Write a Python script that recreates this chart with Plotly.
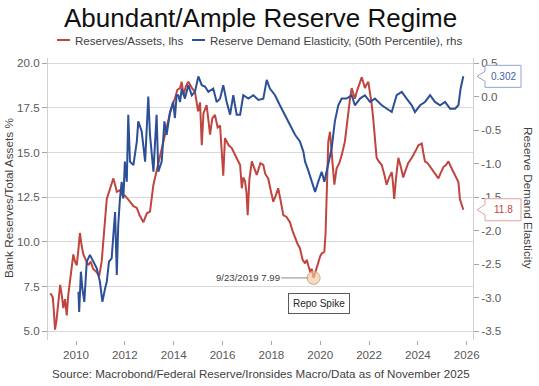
import plotly.graph_objects as go

# ---------------- data ----------------
red_x = [2008.95, 2009.05, 2009.10, 2009.14, 2009.20, 2009.28, 2009.35, 2009.42, 2009.48, 2009.55,
         2009.62, 2009.68, 2009.78, 2009.89, 2009.96, 2010.03, 2010.10, 2010.16, 2010.23, 2010.30,
         2010.40, 2010.50, 2010.60, 2010.70, 2010.85, 2010.95, 2011.05, 2011.15, 2011.26, 2011.40,
         2011.53, 2011.60, 2011.67, 2011.80, 2011.90, 2012.00, 2012.10, 2012.21, 2012.35, 2012.49,
         2012.60, 2012.76, 2012.90, 2013.03, 2013.17, 2013.30, 2013.44, 2013.57, 2013.71, 2013.85,
         2013.98, 2014.05, 2014.15, 2014.26, 2014.33, 2014.40, 2014.50, 2014.60, 2014.75, 2014.87,
         2015.00, 2015.08, 2015.15, 2015.22, 2015.35, 2015.42, 2015.49, 2015.58, 2015.69, 2015.80,
         2015.90, 2016.03, 2016.10, 2016.25, 2016.38, 2016.50, 2016.65, 2016.72, 2016.79, 2016.85,
         2016.92, 2016.98, 2017.03, 2017.10, 2017.20, 2017.30, 2017.40, 2017.55, 2017.67, 2017.75,
         2017.87, 2017.97, 2018.08, 2018.18, 2018.28, 2018.38, 2018.49, 2018.62, 2018.76, 2018.87,
         2018.97, 2019.07, 2019.17, 2019.28, 2019.38, 2019.45, 2019.51, 2019.60, 2019.65, 2019.73,
         2019.80, 2019.92, 2020.00, 2020.06, 2020.17, 2020.22, 2020.27, 2020.33, 2020.40, 2020.47,
         2020.53, 2020.58, 2020.67, 2020.78, 2020.88, 2021.01, 2021.08, 2021.15, 2021.22, 2021.29,
         2021.35, 2021.42, 2021.52, 2021.63, 2021.70, 2021.77, 2021.83, 2021.90, 2021.97, 2022.03,
         2022.10, 2022.17, 2022.24, 2022.31, 2022.40, 2022.52, 2022.62, 2022.72, 2022.82, 2022.93,
         2022.98, 2023.03, 2023.10, 2023.20, 2023.30, 2023.40, 2023.47, 2023.60, 2023.75, 2023.85,
         2023.95, 2024.02, 2024.16, 2024.22, 2024.29, 2024.40, 2024.50, 2024.57, 2024.70, 2024.84,
         2024.95, 2025.05, 2025.15, 2025.25, 2025.35, 2025.45, 2025.55, 2025.66, 2025.72, 2025.80,
         2025.86]
red_y = [7.13, 6.9, 6.0, 5.1, 5.6, 6.66, 7.6, 7.0, 6.3, 6.8,
         5.9, 7.0, 8.0, 9.3, 8.9, 8.7, 9.6, 10.5, 9.8, 9.3,
         9.0, 8.7, 8.9, 8.5, 8.3, 8.1, 8.9, 10.8, 12.4, 13.0,
         13.55, 13.2, 12.8, 12.9, 12.6, 12.6, 12.4, 12.25, 12.0, 11.9,
         11.5, 11.1, 11.6, 11.7, 13.2, 14.0, 14.85, 15.6, 16.5, 17.2,
         17.8, 18.0, 18.5, 18.6, 18.95, 18.2, 18.7, 18.95, 18.6, 18.4,
         17.3, 17.8, 15.4, 17.2, 17.65, 16.8, 16.0, 16.9, 17.1, 16.4,
         16.5, 13.7, 15.8, 15.4, 15.25, 14.9, 14.5, 14.3, 13.0, 13.6,
         13.4, 12.8, 11.5, 13.5, 14.5, 14.1, 13.75, 14.4, 14.3, 13.8,
         13.55, 12.9, 12.25, 12.6, 13.0, 12.3, 11.5, 11.4, 11.1, 10.6,
         10.2, 9.9, 9.65, 9.0, 8.8, 9.0, 8.7, 8.3, 8.5, 7.99,
         8.3, 8.9, 9.2, 9.35, 9.45, 10.5, 13.0, 15.6, 16.15, 15.2,
         14.0, 13.2, 14.1, 14.4, 14.85, 15.6, 16.5, 17.45, 18.0, 18.6,
         18.3, 18.0, 18.5, 18.95, 19.2, 18.9, 18.6, 18.8, 18.95, 18.4,
         17.8, 16.9, 15.5, 14.7, 14.5, 14.3, 13.8, 13.2, 13.6, 13.9,
         13.3, 12.4, 13.5, 14.7, 14.2, 13.6, 13.9, 14.4, 14.7, 15.0,
         15.2, 15.4, 15.5, 15.0, 14.5, 14.4, 14.2, 14.1, 13.8, 13.55,
         13.9, 14.2, 14.3, 14.5, 14.2, 13.9, 13.7, 13.35, 12.4, 12.0,
         11.8]

blue_x = [2010.10, 2010.13, 2010.20, 2010.26, 2010.34, 2010.44, 2010.57, 2010.71, 2010.85, 2010.98,
          2011.08, 2011.19, 2011.26, 2011.35, 2011.46, 2011.53, 2011.60, 2011.67, 2011.73, 2011.80,
          2011.87, 2011.94, 2012.00, 2012.08, 2012.14, 2012.21, 2012.35, 2012.49, 2012.55, 2012.69,
          2012.83, 2012.96, 2013.03, 2013.17, 2013.30, 2013.37, 2013.51, 2013.62, 2013.71, 2013.85,
          2013.98, 2014.05, 2014.12, 2014.19, 2014.26, 2014.33, 2014.46, 2014.60, 2014.74, 2014.87,
          2015.01, 2015.15, 2015.28, 2015.42, 2015.62, 2015.76, 2015.90, 2016.03, 2016.17, 2016.31,
          2016.44, 2016.58, 2016.72, 2016.85, 2017.06, 2017.26, 2017.47, 2017.67, 2017.81, 2017.94,
          2018.15, 2018.35, 2018.56, 2018.76, 2018.97, 2019.17, 2019.31, 2019.38, 2019.51, 2019.65,
          2019.79, 2019.92, 2020.06, 2020.17, 2020.33, 2020.47, 2020.60, 2020.74, 2020.88, 2021.08,
          2021.29, 2021.42, 2021.63, 2021.83, 2022.04, 2022.24, 2022.52, 2022.72, 2022.93, 2023.13,
          2023.34, 2023.54, 2023.75, 2023.88, 2024.09, 2024.29, 2024.50, 2024.70, 2024.91, 2025.11,
          2025.32, 2025.52, 2025.66, 2025.75, 2025.86]
blue_y = [-2.91, -3.21, -2.61, -2.86, -3.06, -2.46, -2.36, -2.46, -2.56, -2.76,
          -3.06, -2.86, -2.76, -2.46, -2.41, -2.06, -1.72, -2.66, -1.91, -1.52,
          -1.27, -1.52, -0.97, -1.27, -0.27, -0.97, -1.02, -0.67, -0.37, -0.52,
          -0.97, 0.0, -0.57, -1.12, -0.27, -1.12, -0.97, -0.37, -0.57, -0.23,
          -0.08, -0.32, 0.02, 0.02, -0.08, 0.12, -0.03, 0.17, 0.02, 0.07,
          0.30, 0.17, 0.15, 0.07, 0.12, -0.08, -0.03, 0.17, -0.08, -0.27,
          0.02, -0.27, -0.27, 0.02, -0.03, 0.02, -0.05, -0.03, 0.25, 0.12,
          0.02, -0.13, -0.27, -0.42, -0.57, -0.67, -0.82, -0.97, -1.10, -1.27,
          -1.42, -1.27, -1.12, -1.27, -1.02, -0.77, -0.37, -0.13, -0.03, -0.03,
          0.02, -0.13, -0.03, 0.02, -0.08, -0.03, -0.13, -0.18, -0.23, 0.02,
          0.07, -0.03, -0.13, -0.23, -0.13, -0.08, 0.02, -0.08, -0.13, -0.08,
          -0.18, -0.18, -0.13, 0.12, 0.302]

spike_x = [2019.73]
spike_y = [7.99]
spike_label = "9/23/2019 7.99"

left_ticks = [5.0, 7.5, 10.0, 12.5, 15.0, 17.5, 20.0]
right_ticks = [-3.5, -3.0, -2.5, -2.0, -1.5, -1.0, -0.5, 0.0, 0.5]
year_ticks = [2010, 2012, 2014, 2016, 2018, 2020, 2022, 2024, 2026]

title = "Abundant/Ample Reserve Regime"
red_name = "Reserves/Assets, lhs"
blue_name = "Reserve Demand Elasticity, (50th Percentile), rhs"
source = "Source: Macrobond/Federal Reserve/Ironsides Macro/Data as of November 2025"

# ---------------- styling ----------------
RED = "#c0453f"
BLUE = "#2c4f97"
FONT = "Liberation Sans, Arial, sans-serif"
GREY = "#595959"

W, H = 539, 386
ML, MR, MT, MB = 48, 66, 58, 46
PW, PH = W - ML - MR, H - MT - MB


def px(x):
    return (x - ML) / PW


def py(y):
    return (H - MB - y) / PH


fig = go.Figure()
fig.add_trace(go.Scatter(x=red_x, y=red_y, mode="lines", name=red_name,
                         line=dict(color=RED, width=2), yaxis="y"))
fig.add_trace(go.Scatter(x=blue_x, y=blue_y, mode="lines", name=blue_name,
                         line=dict(color=BLUE, width=2), yaxis="y2"))
fig.add_trace(go.Scatter(x=spike_x, y=spike_y, mode="markers", yaxis="y",
                         marker=dict(size=13, color="rgba(248,196,160,0.65)",
                                     line=dict(color="#c9a98a", width=1)),
                         showlegend=False))

annotations = []
shapes = []

# title
annotations.append(dict(text=title, xref="paper", yref="paper", x=0.5, y=py(18),
                        xanchor="center", yanchor="middle", showarrow=False,
                        font=dict(family=FONT, size=26, color="#111111")))
# legend (manual)
for (x0, x1, tx, col, name) in [(57, 70, 73, RED, red_name), (192, 205, 208, BLUE, blue_name)]:
    shapes.append(dict(type="line", xref="paper", yref="paper", x0=px(x0), x1=px(x1),
                       y0=py(40), y1=py(40), line=dict(color=col, width=2)))
    annotations.append(dict(text=name, xref="paper", yref="paper", x=px(tx), y=py(40),
                            xanchor="left", yanchor="middle", showarrow=False,
                            font=dict(family=FONT, size=11.6, color="#404040")))
# axis titles
annotations.append(dict(text="Bank Reserves/Total Assets %", xref="paper", yref="paper",
                        x=px(9), y=py(198), textangle=-90, showarrow=False,
                        xanchor="center", yanchor="middle",
                        font=dict(family=FONT, size=11.8, color="#404040")))
annotations.append(dict(text="Reserve Demand Elasticity", xref="paper", yref="paper",
                        x=px(528), y=py(198), textangle=90, showarrow=False,
                        xanchor="center", yanchor="middle",
                        font=dict(family=FONT, size=11.8, color="#404040")))
# source
annotations.append(dict(text=source, xref="paper", yref="paper", x=0.5, y=py(373),
                        xanchor="center", yanchor="middle", showarrow=False,
                        font=dict(family=FONT, size=11.6, color="#404040")))

# repo spike annotations
annotations.append(dict(text=spike_label, x=spike_x[0], y=spike_y[0], xref="x", yref="y",
                        showarrow=True, arrowhead=0, arrowwidth=1, arrowcolor="#8c8c8c",
                        ax=-66, ay=0, standoff=6, xanchor="center",
                        font=dict(family=FONT, size=9.6, color="#404040")))
annotations.append(dict(text="Repo Spike", x=spike_x[0], y=spike_y[0], xref="x", yref="y",
                        showarrow=False, xshift=5.5, yshift=-26,
                        bordercolor="#595959", borderwidth=1, borderpad=4, bgcolor="white",
                        font=dict(family=FONT, size=10, color="#262626")))

# value callouts on the right
callout_path = "M 4,0 L 12,5 L 12,11 L 48,11 L 48,-11 L 12,-11 L 12,-5 Z"
for (val, yref, border, txtcol, txt) in [
        (blue_y[-1], "y2", "#8fa3cf", "#3f5fa6", f"{blue_y[-1]:.3f}"),
        (red_y[-1], "y", "#e2a3a0", "#c0453f", f"{red_y[-1]:.1f}")]:
    shapes.append(dict(type="path", xref="paper", yref=yref, xsizemode="pixel",
                       ysizemode="pixel", xanchor=1, yanchor=val, path=callout_path,
                       fillcolor="white", line=dict(color=border, width=1), layer="above"))
    annotations.append(dict(text=txt, xref="paper", yref=yref, x=1, y=val, xshift=30,
                            showarrow=False, xanchor="center", yanchor="middle",
                            font=dict(family=FONT, size=10, color=txtcol)))

fig.update_layout(
    width=W, height=H, autosize=False,
    margin=dict(l=ML, r=MR, t=MT, b=MB, pad=0, autoexpand=False),
    paper_bgcolor="white", plot_bgcolor="white",
    showlegend=False,
    hovermode=False,
    font=dict(family=FONT, size=11.6, color=GREY),
    xaxis=dict(range=[2008.853, 2026.257], tickvals=year_ticks, automargin=False,
               ticktext=[str(y) for y in year_ticks],
               showgrid=False, zeroline=False, showline=False,
               ticks="outside", ticklen=4, tickcolor="#a6a6a6",
               tickfont=dict(family=FONT, size=11.6, color=GREY)),
    yaxis=dict(range=[4.52, 20.28], tickvals=left_ticks, automargin=False,
               ticktext=[f"{v:.1f}" for v in left_ticks],
               showgrid=True, gridcolor="#d9d9d9", gridwidth=1, zeroline=False,
               showline=True, linecolor="#d0d0d0", linewidth=1,
               ticks="outside", ticklen=5, tickcolor="#a6a6a6",
               tickfont=dict(family=FONT, size=11.6, color=GREY)),
    yaxis2=dict(range=[-3.628, 0.575], tickvals=right_ticks, automargin=False,
                ticktext=[f"{v:.1f}".replace("-0.0", "0.0") for v in right_ticks],
                overlaying="y", side="right", showgrid=False, zeroline=False,
                showline=True, linecolor="#d0d0d0", linewidth=1,
                ticks="outside", ticklen=5, tickcolor="#a6a6a6",
                tickfont=dict(family=FONT, size=11.6, color=GREY)),
    annotations=annotations,
    shapes=shapes,
)

fig.write_html("out.html", config={"displayModeBar": False},
               post_script="document.body.style.margin='0';document.body.style.padding='0';")
